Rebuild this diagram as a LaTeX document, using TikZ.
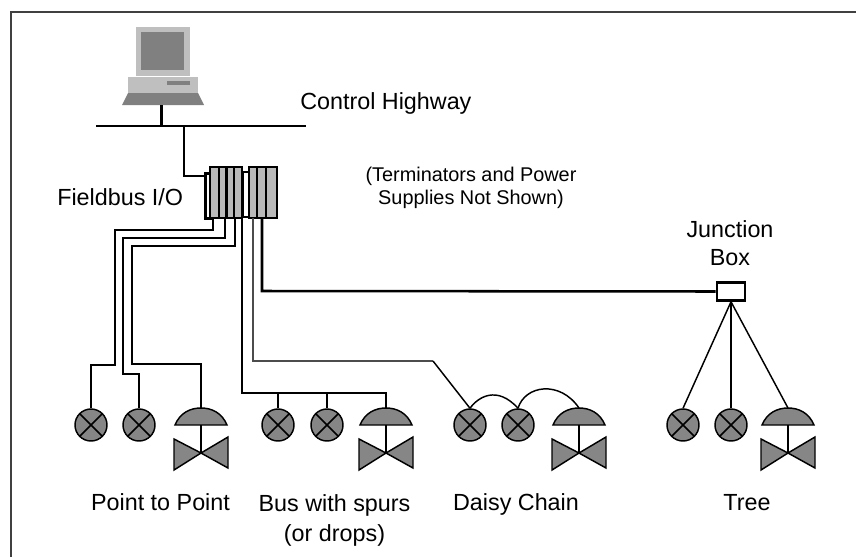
\documentclass[tikz,border=0pt]{standalone}
\usepackage{fontspec}
\setmainfont{Liberation Sans}

\tikzset{
  wire/.style={line width=1.9pt},
  thinwire/.style={line width=1.1pt},
  label/.style={inner sep=0.75pt,font=\fontsize{17.5}{21.5}\selectfont,align=center},
  instr/.style={circle,draw,line width=1.1pt,fill=gray!95,minimum size=24pt,inner sep=0pt,
    path picture={\draw [line width=1.1pt] (path picture bounding box.north west) -- (path picture bounding box.south east)
      (path picture bounding box.north east) -- (path picture bounding box.south west);}},
  rack/.style={draw,line width=1.9pt,fill=white},
  bar/.style={draw,line width=1.9pt,fill=black!27},
  valve/.pic={
    \begin{scope}[yscale=-1]
    \draw [line width=1.1pt,fill=gray!95] (-26,0) .. controls (-21,-12) and (-11,-17) .. (0,-17) .. controls (11,-17) and (21,-12) .. (26,0) -- cycle ;
    \draw [line width=1.1pt,fill=gray!95] (0,28) -- (-27,14) -- (-27,45) -- cycle ;
    \draw [line width=1.1pt,fill=gray!95] (0,28) -- (27,12) -- (27,43) -- cycle ;
    \draw [wire] (0,0) -- (0,28) ;
    \coordinate (-top) at (0,-17) ;
    \end{scope}
  }
}

\begin{document}
\begin{tikzpicture}[x=0.75pt,y=0.75pt,yscale=-1,xscale=1]
\useasboundingbox (0,0) rectangle (856,557);

%Frame
\draw [line width=1pt,black!75] (11,557) -- (11,12) -- (856,12) ;

%Computer
\fill [black!25] (136,27) rectangle (190,76) ;
\fill [black!50] (141,32) rectangle (184,70) ;
\fill [black!25] (128,77) rectangle (198,93) ;
\fill [black!50] (167,81) rectangle (190,85) ;
\fill [black!50] (128,93) -- (198,93) -- (204,105) -- (122,105) -- cycle ;
\coordinate (pc) at (161.5,105) ;

%Control highway
\coordinate (hwL) at (96,126) ;
\coordinate (hwR) at (306,126) ;
\coordinate (hwA) at (161.5,126) ;
\coordinate (hwB) at (184,126) ;
\draw [wire] (hwL) -- (hwR) ;
\draw [wire] (pc) -- (hwA) ;

%Fieldbus racks
\node (card) [rack,anchor=north west,minimum width=5pt,minimum height=34pt,inner sep=0pt] at (204,172) {};
\draw [rack] (243,172) rectangle (249,217) ;
\foreach \xa/\xb in {210/219,219/226.5,226.5/234,234/242,249/257,257/266,266/277}
  \draw [bar] (\xa,167) rectangle (\xb,218) ;
\draw [wire] (hwB) -- (184,176) -- (card.north west |- 0,176) ;

%Instruments and valves
\node (pa) [instr] at (91,425) {};
\node (pb) [instr] at (139,425) {};
\pic (pv) at (201,425) {valve};
\node (ba) [instr] at (278,425) {};
\node (bb) [instr] at (327,425) {};
\pic (bv) at (386,425) {valve};
\node (da) [instr] at (470,425) {};
\node (db) [instr] at (518,425) {};
\pic (dv) at (579,425) {valve};
\node (ta) [instr] at (683,425) {};
\node (tb) [instr] at (731,425) {};
\pic (tv) at (788,425) {valve};

%Point to point
\draw [wire] (213,218) -- (213,230) -- (115,230) -- (115,365) -- (91,365) -- (pa) ;
\draw [wire] (225,218) -- (225,238) -- (123,238) -- (123,374) -- (139,374) -- (pb) ;
\draw [wire] (235,218) -- (235,246) -- (132,246) -- (132,364) -- (201,364) -- (pv-top) ;

%Bus with spurs
\draw [wire] (242,218) -- (242,393) -- (386,393) -- (bv-top) ;
\draw [wire] (278,393) -- (ba) ;
\draw [wire] (327,393) -- (bb) ;

%Daisy chain
\draw [line width=1.1pt,black!70] (253,218) -- (253,361) -- (433,361) ;
\draw [thinwire] (433,361) -- (da.north) ;
\draw [thinwire] (da.north) .. controls (478,397) and (497,385) .. (db.north) ;
\draw [thinwire] (db.north) .. controls (525,385) and (560,380) .. (dv-top) ;

%Tree
\node (jbox) [draw,line width=1.9pt,minimum width=21pt,minimum height=13.5pt,inner sep=0pt] at (731,291.5) {};
\draw [wire] (262,218) -- (262,291) -- (jbox.west) ;
\draw [thinwire] (jbox.south) -- (ta.north) ;
\draw [wire] (jbox.south) -- (tb.north) ;
\draw [thinwire] (jbox.south) -- (tv-top) ;

% Text Node
\node (tcontrol) [label,anchor=west] at (299,103) {Control Highway};
\node (tfield) [label,anchor=west] at (56,197) {Fieldbus I/O};
\node (tnote) [label,font=\fontsize{14.9}{17.3}\selectfont] at (471,188) {(Terminators and Power\\Supplies Not Shown)};
\node (tjunc) [label] at (730,243) {Junction\\Box};
\node (tptp) [label,anchor=base] at (160.5,510) {Point to Point};
\node (tbus) [label,font=\fontsize{17.5}{22.5}\selectfont] at (334.5,520) {Bus with spurs\\(or drops)};
\node (tdaisy) [label,anchor=base] at (516,510) {Daisy Chain};
\node (ttree) [label,anchor=base] at (747,510) {Tree};

\end{tikzpicture}
\end{document}
